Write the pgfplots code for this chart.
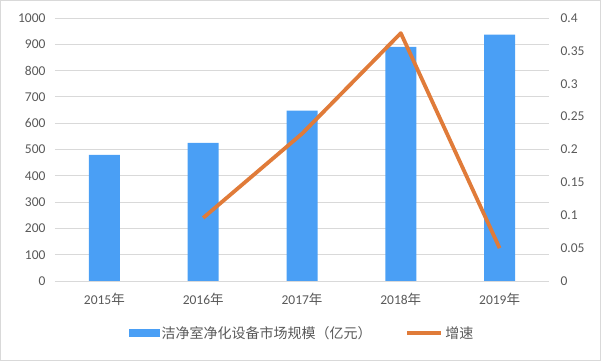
\documentclass[border=0pt]{standalone}
\usepackage{pgfplots}
\pgfplotsset{compat=1.18}
\usepackage{fontspec}
\setmainfont{Carlito}
\newfontfamily\cjk{Noto Sans CJK SC}
\definecolor{barblue}{HTML}{4A9FF5}
\definecolor{lineorange}{HTML}{E07B39}
\definecolor{gridgray}{HTML}{D9D9D9}
\definecolor{txtgray}{HTML}{595959}
\begin{document}
\begin{tikzpicture}
\useasboundingbox (-55bp,-80bp) rectangle (546bp,281bp);
\draw[gridgray, line width=1bp] (-54.5bp,-79.5bp) rectangle (545.5bp,280.5bp);
\begin{axis}[
  at={(0bp,0bp)}, anchor=south west,
  scale only axis, width=494bp, height=263bp,
  xmin=-0.5, xmax=4.5, ymin=0, ymax=1000,
  ytick={0,100,...,1000},
  xtick={0,1,2,3,4},
  xticklabels={2015{\cjk 年},2016{\cjk 年},2017{\cjk 年},2018{\cjk 年},2019{\cjk 年}},
  axis line style={draw=none},
  major tick style={draw=none},
  ymajorgrids, grid style={gridgray, line width=0.9bp},
  /pgf/number format/assume math mode=true,
  /pgf/number format/set thousands separator={},
  tick label style={font=\fontsize{13.5bp}{15bp}\selectfont, text=txtgray},
  yticklabel style={xshift=-6bp},
  xticklabel style={yshift=-4bp},
  ybar, bar width=31bp,
  legend style={at={(0.5,-0.198)}, anchor=center, draw=none, fill=none,
    legend columns=2, font=\fontsize{14bp}{16bp}\selectfont\cjk, text=txtgray,
    /tikz/every even column/.append style={column sep=32bp}},
  legend cell align=left,
]
\addplot[fill=barblue, draw=none,
  legend image code/.code={\fill[barblue] (0bp,-4bp) rectangle (31bp,4bp);}]
  coordinates {(0,480) (1,525) (2,648) (3,890) (4,937)};
\addlegendentry{洁净室净化设备市场规模（亿元）}
\addlegendimage{legend image code/.code={\draw[lineorange, line width=4bp] (0bp,0bp) -- (34bp,0bp);}}
\addlegendentry{增速}
\end{axis}
\begin{axis}[
  at={(0bp,0bp)}, anchor=south west,
  scale only axis, width=494bp, height=263bp,
  xmin=-0.5, xmax=4.5, ymin=0, ymax=0.4,
  ytick={0,0.05,...,0.41},
  axis y line*=right, axis x line=none,
  axis line style={draw=none},
  major tick style={draw=none},
  scaled y ticks=false,
  yticklabel={\pgfmathprintnumber[fixed, precision=2]{\tick}},
  /pgf/number format/assume math mode=true,
  tick label style={font=\fontsize{13.5bp}{15bp}\selectfont, text=txtgray},
  yticklabel style={anchor=west, xshift=8bp},
]
\addplot[lineorange, line width=3.8bp, line join=round]
  coordinates {(1,0.096) (2,0.224) (3,0.377) (4,0.05)};
\end{axis}
\end{tikzpicture}
\end{document}
